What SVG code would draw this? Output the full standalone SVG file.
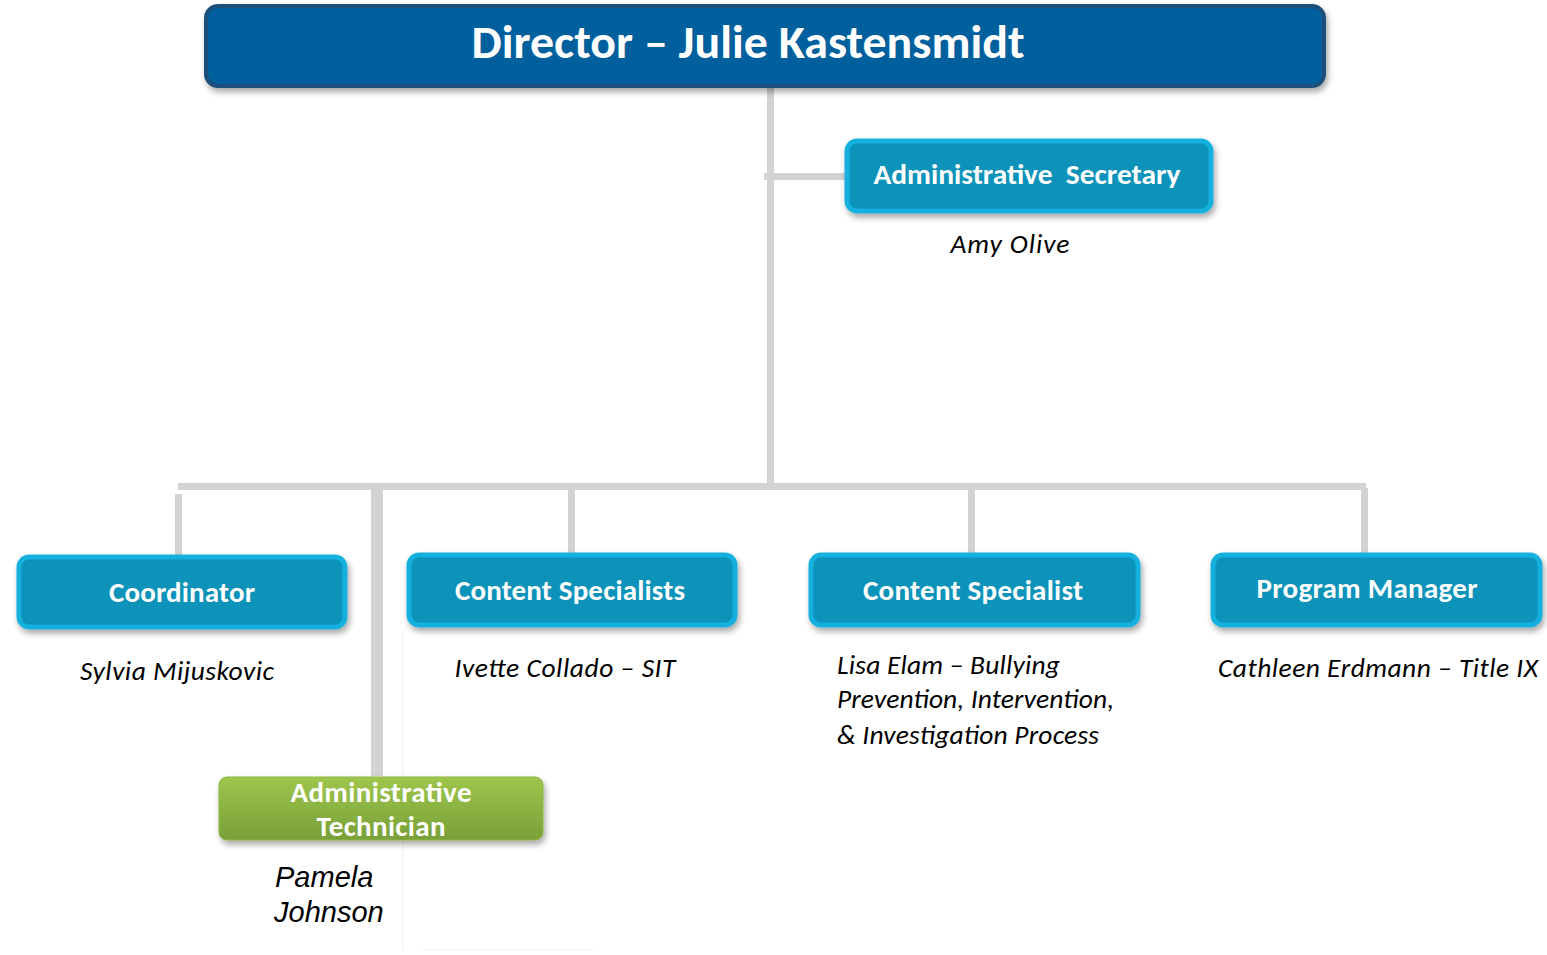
<svg xmlns="http://www.w3.org/2000/svg" width="1547" height="955" viewBox="0 0 1547 955">
<style>
.conn{fill:#d3d3d3}
.box{fill:#0b93b9;stroke:#14b0de;stroke-width:5}
.title{font-family:Carlito,Lato,"Open Sans",sans-serif;font-weight:bold;fill:#fff;text-anchor:middle;font-size:29px}
.name{font-family:Carlito,Lato,"Open Sans",sans-serif;font-style:italic;fill:#000;font-size:27.5px}
</style>
<defs>
<filter id="sh" x="-10%" y="-20%" width="120%" height="150%">
<feGaussianBlur in="SourceAlpha" stdDeviation="3"/>
<feOffset dx="2" dy="4" result="b"/>
<feComponentTransfer><feFuncA type="linear" slope="0.35"/></feComponentTransfer>
<feMerge><feMergeNode/><feMergeNode in="SourceGraphic"/></feMerge>
</filter>
<linearGradient id="green" x1="0" y1="0" x2="0" y2="1">
<stop offset="0" stop-color="#9ec64c"/>
<stop offset="1" stop-color="#79a039"/>
</linearGradient>
</defs>
<rect width="1547" height="955" fill="#fff"/>
<g id="connectors">
<rect class="conn" x="767" y="86" width="7" height="403"/>
<rect class="conn" x="764" y="173" width="82" height="7"/>
<rect class="conn" x="178" y="483" width="1188" height="7"/>
<rect class="conn" x="175" y="494" width="7" height="62"/>
<rect class="conn" x="371" y="488" width="12" height="288"/>
<rect class="conn" x="568" y="488" width="7" height="66"/>
<rect class="conn" x="968" y="488" width="7" height="66"/>
<rect class="conn" x="1361" y="488" width="7" height="66"/>
<line x1="403" y1="630" x2="403" y2="950" stroke="#f2f2f2" stroke-width="1"/>
<line x1="420" y1="950" x2="595" y2="950" stroke="#f2f2f2" stroke-width="1"/>
</g>
<g id="director">
<rect x="206" y="6" width="1118" height="80" rx="12" fill="#00609e" stroke="#1c4f7c" stroke-width="4" filter="url(#sh)"/>
<text class="title" x="748" y="58" style="font-size:47px" textLength="553" lengthAdjust="spacingAndGlyphs">Director – Julie Kastensmidt</text>
</g>
<g id="admin-secretary">
<rect class="box" x="847" y="141" width="364" height="70" rx="10" filter="url(#sh)"/>
<text class="title" x="1027" y="184" xml:space="preserve" textLength="307" lengthAdjust="spacingAndGlyphs">Administrative  Secretary</text>
<text class="name" x="1010" y="253" text-anchor="middle" textLength="119">Amy Olive</text>
</g>
<g id="coordinator">
<rect class="box" x="19" y="557" width="326" height="70" rx="10" filter="url(#sh)"/>
<text class="title" x="182" y="602" textLength="146">Coordinator</text>
<text class="name" x="177" y="680" text-anchor="middle" textLength="194">Sylvia Mijuskovic</text>
</g>
<g id="content-specialists">
<rect class="box" x="409" y="555" width="326" height="70" rx="10" filter="url(#sh)"/>
<text class="title" x="570" y="600" textLength="230">Content Specialists</text>
<text class="name" x="565" y="677" text-anchor="middle" textLength="221">Ivette Collado – SIT</text>
</g>
<g id="content-specialist">
<rect class="box" x="811" y="555" width="327" height="70" rx="10" filter="url(#sh)"/>
<text class="title" x="973" y="600" textLength="220">Content Specialist</text>
<text class="name" x="837" y="674" textLength="223">Lisa Elam – Bullying</text>
<text class="name" x="837" y="708" textLength="277">Prevention, Intervention,</text>
<text class="name" x="837" y="744" textLength="262">&amp; Investigation Process</text>
</g>
<g id="program-manager">
<rect class="box" x="1213" y="555" width="327" height="70" rx="10" filter="url(#sh)"/>
<text class="title" x="1367" y="598" textLength="221">Program Manager</text>
<text class="name" x="1378" y="677" text-anchor="middle" textLength="320">Cathleen Erdmann – Title IX</text>
</g>
<g id="admin-technician">
<rect x="219" y="777" width="324" height="63" rx="8" fill="url(#green)" stroke="#8db544" stroke-width="1" filter="url(#sh)"/>
<text class="title" x="381" y="802" textLength="181">Administrative</text>
<text class="title" x="381" y="836" textLength="129">Technician</text>
<text x="275" y="887" font-family="'Liberation Sans',Arial,sans-serif" font-style="italic" font-size="29" fill="#000">Pamela</text>
<text x="274" y="922" font-family="'Liberation Sans',Arial,sans-serif" font-style="italic" font-size="29" fill="#000">Johnson</text>
</g>
</svg>
